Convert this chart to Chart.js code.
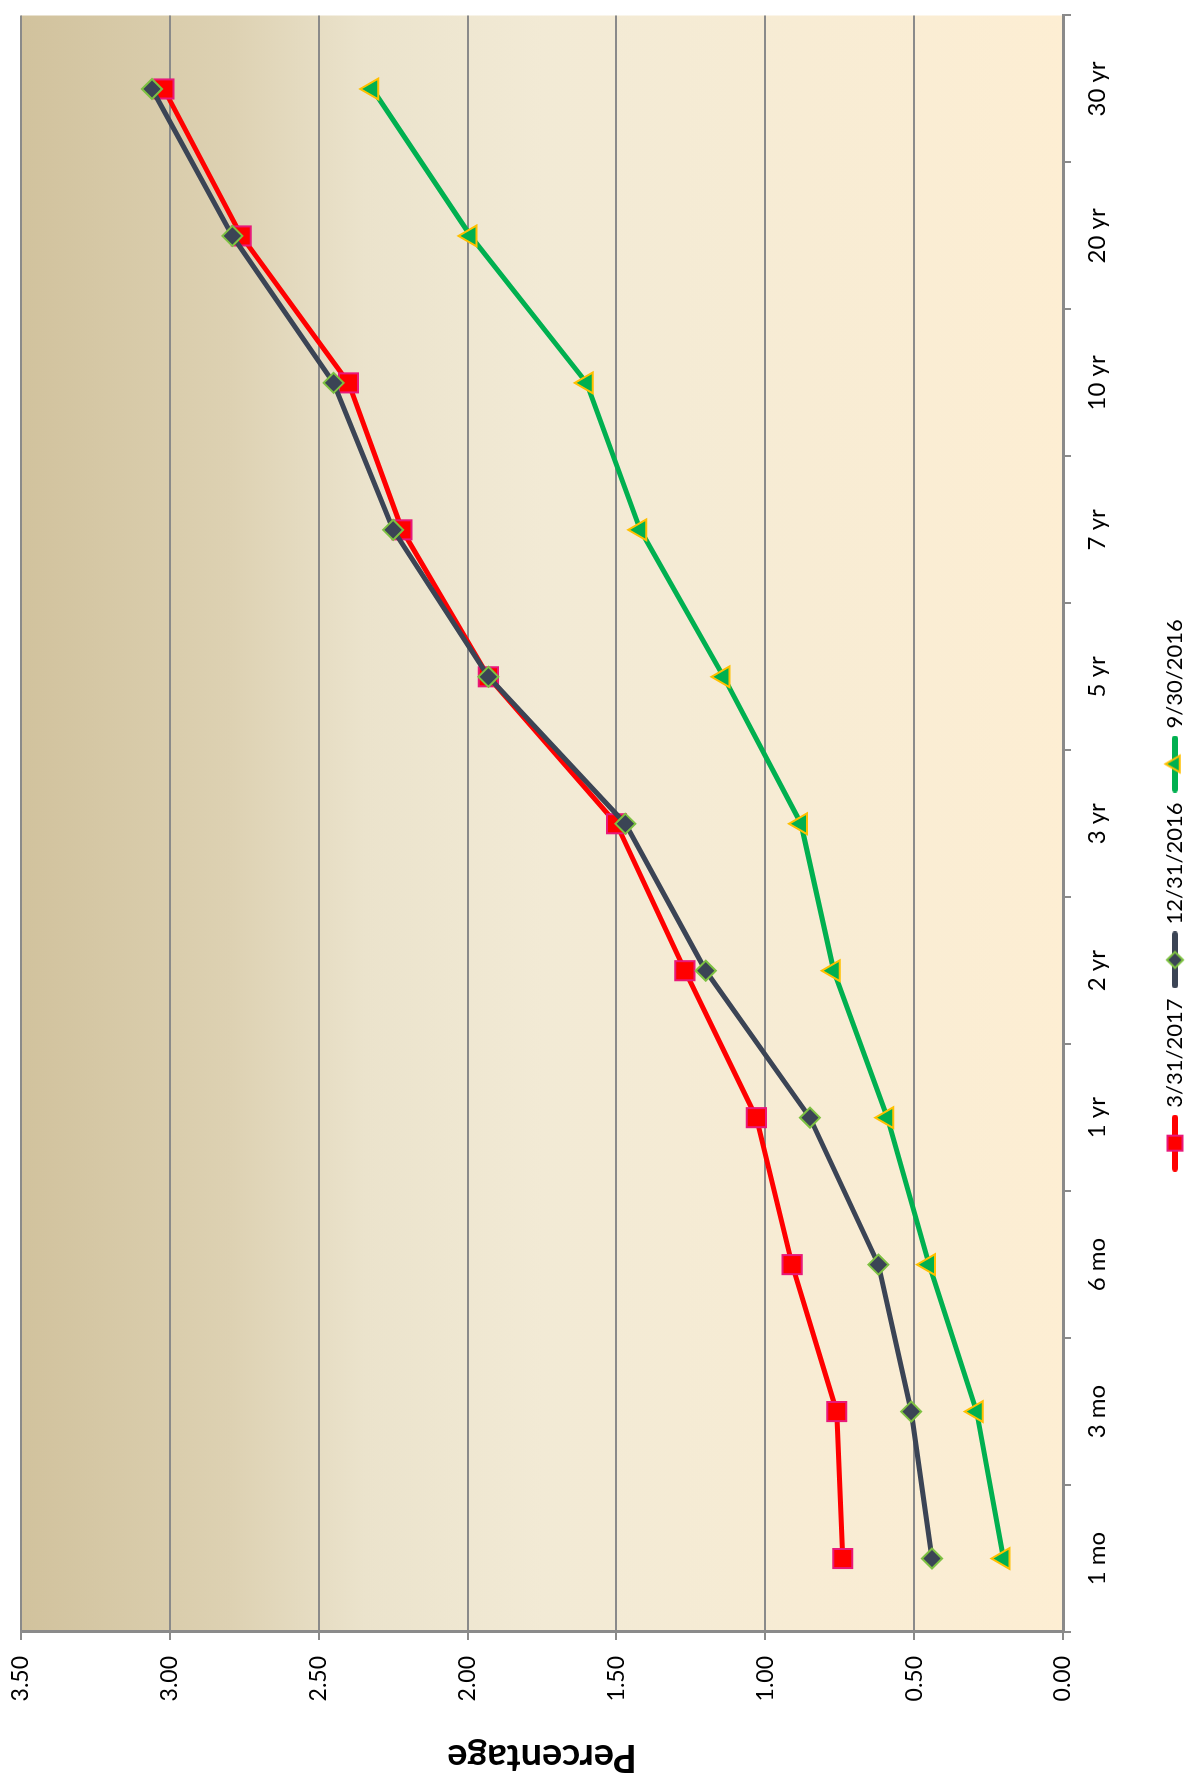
<!DOCTYPE html>
<html>
<head>
<meta charset="utf-8">
<script src="https://cdn.jsdelivr.net/npm/chart.js@4/dist/chart.umd.min.js"></script>
<style>
  html, body { margin: 0; padding: 0; background: #fff; overflow: hidden; }
  /* chart is drawn upright, then turned a quarter to the left like the reference */
  #wrap {
    position: absolute; left: 0; top: 0;
    width: 1780px; height: 1196px;
    transform-origin: 0 0;
    transform: translateY(1780px) rotate(-90deg);
  }
</style>
</head>
<body>
<div id="wrap"><canvas id="yieldChart" width="1780" height="1196"></canvas></div>
<script>
// maturities
const maturities = ['1 mo', '3 mo', '6 mo', '1 yr', '2 yr', '3 yr', '5 yr', '7 yr', '10 yr', '20 yr', '30 yr'];

// yields, in percent
const mar2017 = [0.74, 0.76, 0.91, 1.03, 1.27, 1.50, 1.93, 2.22, 2.40, 2.76, 3.02];
const dec2016 = [0.44, 0.51, 0.62, 0.85, 1.20, 1.47, 1.93, 2.25, 2.45, 2.79, 3.06];
const sep2016 = [0.20, 0.29, 0.45, 0.59, 0.77, 0.88, 1.14, 1.42, 1.60, 1.99, 2.32];

const seriesNames = ['3/31/2017', '12/31/2016', '9/30/2016'];

const FONT = 'Lato, "Open Sans", sans-serif';

// little line+marker picture for the legend, excel style
function legendIcon(lineColor, fill, border, style, r) {
  const c = document.createElement('canvas');
  c.width = 57; c.height = 24;
  const ctx = c.getContext('2d');
  ctx.strokeStyle = lineColor;
  ctx.lineWidth = 6;
  ctx.lineCap = 'round';
  ctx.beginPath();
  ctx.moveTo(3, 12);
  ctx.lineTo(54, 12);
  ctx.stroke();
  ctx.fillStyle = fill;
  ctx.strokeStyle = border;
  ctx.lineWidth = 2;
  ctx.beginPath();
  if (style === 'rect') {
    ctx.rect(28.5 - r, 12 - r, 2 * r, 2 * r);
  } else if (style === 'rectRot') {
    ctx.moveTo(28.5, 12 - r); ctx.lineTo(28.5 + r, 12); ctx.lineTo(28.5, 12 + r); ctx.lineTo(28.5 - r, 12);
    ctx.closePath();
  } else {
    ctx.moveTo(28.5, 12 - r); ctx.lineTo(28.5 + r * 0.87, 12 + r / 2); ctx.lineTo(28.5 - r * 0.87, 12 + r / 2);
    ctx.closePath();
  }
  ctx.fill();
  ctx.stroke();
  return c;
}

const icons = [
  legendIcon('#ff0000', '#ff0000', '#e8187a', 'rect', 7.5),
  legendIcon('#3b4455', '#3b4455', '#7dc142', 'rectRot', 8),
  legendIcon('#00b050', '#00b050', '#ffc000', 'triangle', 9.5)
];

// plot area background, dark tan at the top fading to pale cream
const bgPlugin = {
  id: 'plotBg',
  beforeDraw(chart) {
    const { ctx, chartArea: a } = chart;
    const g = ctx.createLinearGradient(0, a.top, 0, a.bottom);
    g.addColorStop(0, '#d1c29d');
    g.addColorStop(0.2, '#ddd1b2');
    g.addColorStop(0.33, '#ebe3cc');
    g.addColorStop(0.5, '#f2ead5');
    g.addColorStop(1, '#fdeed3');
    ctx.save();
    ctx.fillStyle = g;
    ctx.fillRect(a.left, a.top, a.right - a.left, a.bottom - a.top);
    ctx.restore();
  }
};

const ctx = document.getElementById('yieldChart').getContext('2d');
new Chart(ctx, {
  type: 'line',
  plugins: [bgPlugin],
  data: {
    labels: maturities,
    datasets: [
      {
        label: seriesNames[0],
        data: mar2017,
        borderColor: '#ff0000',
        borderWidth: 5,
        pointStyle: 'rect',
        pointRadius: 13.5,
        pointBackgroundColor: '#ff0000',
        pointBorderColor: '#e8187a',
        pointBorderWidth: 2,
        order: 3
      },
      {
        label: seriesNames[1],
        data: dec2016,
        borderColor: '#3b4455',
        borderWidth: 5,
        pointStyle: 'rectRot',
        pointRadius: 10,
        pointBackgroundColor: '#3b4455',
        pointBorderColor: '#7dc142',
        pointBorderWidth: 2,
        order: 2
      },
      {
        label: seriesNames[2],
        data: sep2016,
        borderColor: '#00b050',
        borderWidth: 5,
        pointStyle: 'triangle',
        pointRadius: 12,
        pointBackgroundColor: '#00b050',
        pointBorderColor: '#ffc000',
        pointBorderWidth: 2,
        order: 1
      }
    ]
  },
  options: {
    responsive: false,
    devicePixelRatio: 1,
    animation: false,
    layout: { padding: { top: 21, right: 7, left: 0, bottom: 0 } },
    plugins: {
      tooltip: { enabled: false },
      legend: {
        position: 'bottom',
        fullSize: true,
        labels: {
          usePointStyle: true,
          pointStyleWidth: 49,
          padding: 14,
          color: '#000',
          font: { family: FONT, size: 22 },
          generateLabels(chart) {
            return chart.data.datasets.map((ds, i) => ({
              text: ds.label,
              pointStyle: icons[i],
              datasetIndex: i,
              hidden: false,
              lineWidth: 0,
              fontColor: '#000'
            }));
          }
        }
      }
    },
    scales: {
      x: {
        offset: true,
        grid: {
          offset: true,
          drawOnChartArea: false,
          drawTicks: true,
          tickLength: 8,
          color: '#8a8a8a',
          lineWidth: 2
        },
        border: { display: true, color: '#8a8a8a', width: 3 },
        ticks: {
          color: '#000',
          padding: 12,
          maxRotation: 0,
          autoSkip: false,
          font: { family: FONT, size: 24 }
        },
        afterFit(axis) { axis.height = 87; }
      },
      y: {
        min: 0,
        max: 3.5,
        ticks: {
          stepSize: 0.5,
          color: '#000',
          padding: 16,
          font: { family: FONT, size: 23 },
          callback: v => Number(v).toFixed(2)
        },
        grid: { color: '#8a8a8a', lineWidth: 2, tickLength: 8 },
        border: { display: true, color: '#8a8a8a', width: 3 },
        title: {
          display: true,
          text: 'Percentage',
          color: '#000',
          padding: 0,
          font: { family: FONT, size: 38, weight: 'bold' }
        },
        afterFit(axis) {
          axis.width = 148;
          // let the layout padding alone decide where the plot starts
          axis.paddingTop = 0;
          axis.paddingBottom = 0;
        }
      }
    }
  }
});
</script>
</body>
</html>
